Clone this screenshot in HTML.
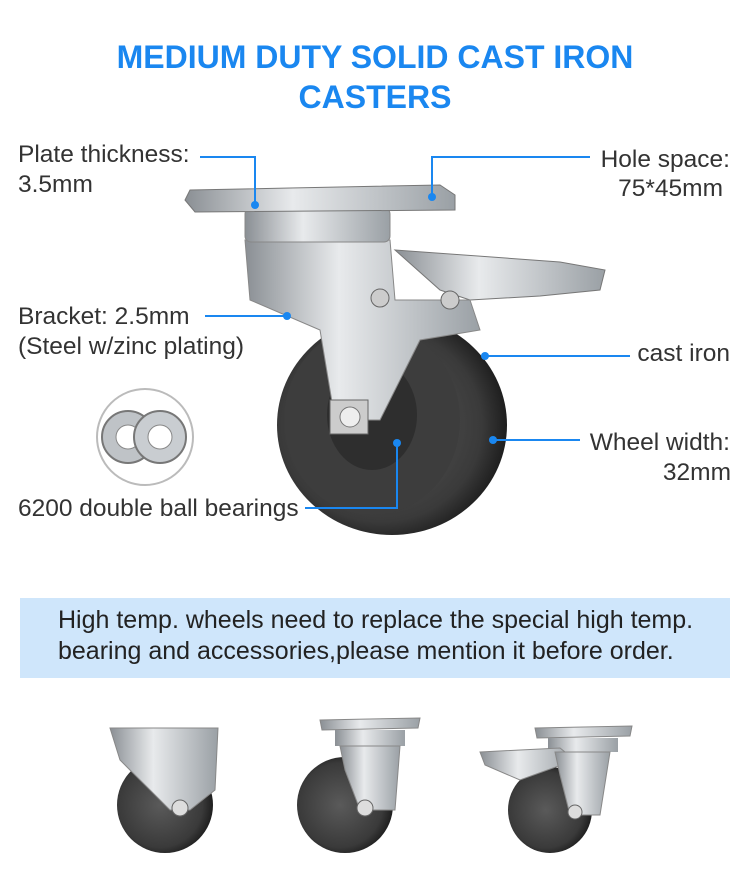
<!DOCTYPE html>
<html><head><meta charset="utf-8"><style>
body{margin:0;width:750px;height:878px;background:#fff;overflow:hidden;position:relative;font-family:"Liberation Sans",Arial,sans-serif}
.t{position:absolute;left:0;width:750px;text-align:center;color:#1a87f0;font-weight:bold;font-size:32px}
.l{position:absolute;color:#333;font-size:24.5px;line-height:30px;white-space:nowrap}
.r{text-align:right}
.box{position:absolute;left:20px;top:598px;width:710px;height:80px;background:#cfe6fb}
.box div{position:absolute;left:38px;top:7px;font-size:25px;color:#222;line-height:31px;white-space:nowrap}
svg{position:absolute;left:0;top:0}
</style></head><body>
<div class="t" style="top:39px">MEDIUM DUTY SOLID CAST IRON</div>
<div class="t" style="top:79px">CASTERS</div>
<svg width="750" height="878">
<defs>
<linearGradient id="m" x1="0" x2="1"><stop offset="0" stop-color="#8a8f94"/><stop offset=".4" stop-color="#e8eaec"/><stop offset="1" stop-color="#9aa0a5"/></linearGradient>
<radialGradient id="w" cx=".45" cy=".5" r=".55"><stop offset="0" stop-color="#5a5a5a"/><stop offset=".8" stop-color="#3a3a3a"/><stop offset="1" stop-color="#1e1e1e"/></radialGradient>
</defs>
<circle cx="145" cy="437" r="48" fill="#fff" stroke="#bbb" stroke-width="2"/>
<circle cx="128" cy="437" r="26" fill="#bfc3c7" stroke="#777" stroke-width="2"/><circle cx="128" cy="437" r="12" fill="#fff" stroke="#888"/>
<circle cx="160" cy="437" r="26" fill="#c9cdd1" stroke="#777" stroke-width="2"/><circle cx="160" cy="437" r="12" fill="#fff" stroke="#888"/>
<polygon points="395,250 560,262 605,270 600,290 540,296 470,300 440,290" fill="url(#m)" stroke="#777"/>
<ellipse cx="392" cy="425" rx="115" ry="110" fill="url(#w)"/>
<ellipse cx="372" cy="420" rx="88" ry="95" fill="#3d3d3d"/>
<ellipse cx="372" cy="415" rx="45" ry="55" fill="#2e2e2e"/>
<polygon points="245,240 390,240 395,300 470,300 480,330 420,340 380,420 335,420 320,330 250,300" fill="url(#m)" stroke="#888"/>
<circle cx="380" cy="298" r="9" fill="#ccc" stroke="#666"/><circle cx="450" cy="300" r="9" fill="#ccc" stroke="#666"/>
<rect x="245" y="208" width="145" height="34" rx="6" fill="url(#m)" stroke="#888"/>
<polygon points="190,190 440,185 455,195 455,210 195,212 185,200" fill="url(#m)" stroke="#777"/>
<rect x="330" y="400" width="38" height="34" fill="#ccc" stroke="#666"/><circle cx="350" cy="417" r="10" fill="#eee" stroke="#777"/>
<g stroke="#1a87f0" stroke-width="2" fill="none">
<polyline points="200,157 255,157 255,205"/>
<polyline points="432,197 432,157 590,157"/>
<line x1="205" y1="316" x2="287" y2="316"/>
<line x1="485" y1="356" x2="630" y2="356"/>
<line x1="493" y1="440" x2="580" y2="440"/>
<polyline points="397,443 397,508 305,508"/>
</g>
<g fill="#1a87f0"><circle cx="255" cy="205" r="4"/><circle cx="432" cy="197" r="4"/><circle cx="287" cy="316" r="4"/><circle cx="485" cy="356" r="4"/><circle cx="493" cy="440" r="4"/><circle cx="397" cy="443" r="4"/></g>
<g>
<ellipse cx="165" cy="805" rx="48" ry="48" fill="url(#w)"/>
<polygon points="110,728 218,728 215,790 190,810 170,810 120,760" fill="url(#m)" stroke="#888"/>
<circle cx="180" cy="808" r="8" fill="#ddd" stroke="#666"/>
</g>
<g>
<ellipse cx="345" cy="805" rx="48" ry="48" fill="url(#w)"/>
<polygon points="320,720 420,718 418,728 322,730" fill="url(#m)" stroke="#888"/>
<rect x="335" y="730" width="70" height="16" fill="url(#m)"/>
<polygon points="340,746 400,746 395,810 360,810 345,770" fill="url(#m)" stroke="#888"/>
<circle cx="365" cy="808" r="8" fill="#ddd" stroke="#666"/>
</g>
<g>
<ellipse cx="550" cy="810" rx="42" ry="43" fill="url(#w)"/>
<polygon points="535,728 632,726 630,736 537,738" fill="url(#m)" stroke="#888"/>
<rect x="548" y="738" width="70" height="14" fill="url(#m)"/>
<polygon points="480,752 560,748 575,760 520,780 485,765" fill="url(#m)" stroke="#888"/>
<polygon points="555,752 610,752 600,815 570,815 560,775" fill="url(#m)" stroke="#888"/>
<circle cx="575" cy="812" r="7" fill="#ddd" stroke="#666"/>
</g>
</svg>
<div class="l" style="left:18px;top:140px">Plate thickness:<br>3.5mm</div>
<div class="l r" style="right:20px;top:145px">Hole space:</div>
<div class="l r" style="right:27px;top:174px">75*45mm</div>
<div class="l" style="left:18px;top:302px">Bracket: 2.5mm<br>(Steel w/zinc plating)</div>
<div class="l r" style="right:20px;top:339px">cast iron</div>
<div class="l r" style="right:20px;top:428px">Wheel width:</div>
<div class="l r" style="right:19px;top:458px">32mm</div>
<div class="l" style="left:18px;top:494px">6200 double ball bearings</div>
<div class="box"><div>High temp. wheels need to replace the special high temp.<br>bearing and accessories,please mention it before order.</div></div>
</body></html>
